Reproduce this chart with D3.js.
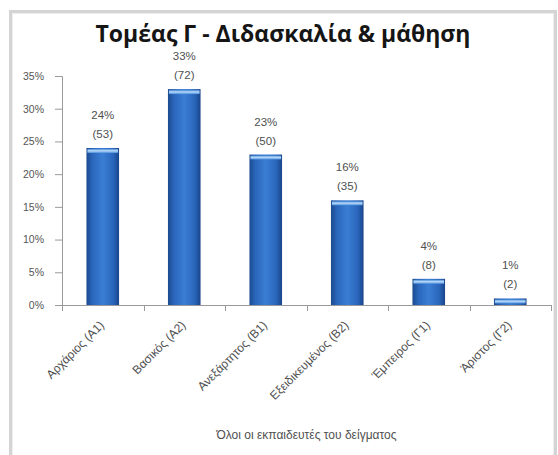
<!DOCTYPE html>
<html>
<head>
<meta charset="utf-8">
<script src="https://cdn.jsdelivr.net/npm/d3@7"></script>
<style>
  html, body { margin: 0; padding: 0; background: #fff; }
  svg { display: block; }
</style>
</head>
<body>
<svg id="chart" width="558" height="455"></svg>
<script>
// Proficiency levels of all trainers in the sample
const categories = ["Αρχάριος (Α1)", "Βασικός (Α2)", "Ανεξάρτητος (Β1)", "Εξειδικευμένος (Β2)", "Έμπειρος (Γ1)", "Άριστος (Γ2)"];
const percents = [24, 33, 23, 16, 4, 1];
const counts = [53, 72, 50, 35, 8, 2];
const yTicks = [0, 5, 10, 15, 20, 25, 30, 35];
const title = "Τομέας Γ - Διδασκαλία & μάθηση";
const xTitle = "Όλοι οι εκπαιδευτές του δείγματος";

const svg = d3.select("#chart");
const font = "'Liberation Sans', Arial, sans-serif";

// outer chart frame
svg.append("rect")
  .attr("x", 10.5).attr("y", 11.5).attr("width", 545).attr("height", 470)
  .attr("fill", "#fff").attr("stroke", "#d4d4d4").attr("stroke-width", 3);
svg.append("rect")
  .attr("x", 12.5).attr("y", 13.5).attr("width", 541).attr("height", 470)
  .attr("fill", "none").attr("stroke", "#eeeeee").attr("stroke-width", 1);

const plot = { left: 62, right: 551, top: 76, bottom: 305 };

const x = d3.scaleBand()
  .domain(categories)
  .range([plot.left, plot.right])
  .paddingInner(0.6)
  .paddingOuter(0.3);

const xTicksScale = d3.scalePoint()
  .domain(d3.range(categories.length + 1))
  .range([plot.left, plot.right]);

const y = d3.scaleLinear().domain([0, 35]).range([plot.bottom, plot.top]);

// gradients for the cylinder-like bars
const defs = svg.append("defs");
const body = defs.append("linearGradient").attr("id", "barBody")
  .attr("x1", "0").attr("x2", "1").attr("y1", "0").attr("y2", "0");
[["0%", "#1b4a8e"], ["18%", "#2a66bb"], ["50%", "#3a7ed4"], ["82%", "#2a66bb"], ["100%", "#19448a"]]
  .forEach(([o, c]) => body.append("stop").attr("offset", o).attr("stop-color", c));
const cap = defs.append("linearGradient").attr("id", "barCap")
  .attr("x1", "0").attr("x2", "0").attr("y1", "0").attr("y2", "1");
[["0%", "#4a88d6"], ["45%", "#b9dcfa"], ["100%", "#4f8fdc"]]
  .forEach(([o, c]) => cap.append("stop").attr("offset", o).attr("stop-color", c));

// title
svg.append("text")
  .attr("x", 283).attr("y", 42)
  .attr("text-anchor", "middle")
  .attr("font-family", "'Open Sans', 'Noto Sans', sans-serif")
  .attr("font-weight", "bold")
  .attr("font-size", 23)
  .attr("fill", "#151515")
  .text(title);

// y axis
const yAxis = d3.axisLeft(y)
  .tickValues(yTicks)
  .tickSize(7)
  .tickPadding(11)
  .tickFormat(d => d + "%");
const gy = svg.append("g").attr("transform", `translate(${plot.left},0)`).call(yAxis);
gy.select(".domain").attr("stroke", "#9a9a9a");
gy.selectAll(".tick line").attr("stroke", "#9a9a9a");
gy.selectAll(".tick text")
  .attr("font-family", font).attr("font-size", 10.5).attr("fill", "#555");

// x axis line with category boundary ticks
const gx = svg.append("g");
gx.append("line")
  .attr("x1", plot.left).attr("x2", plot.right)
  .attr("y1", plot.bottom + 0.5).attr("y2", plot.bottom + 0.5)
  .attr("stroke", "#9a9a9a");
gx.selectAll("line.tk")
  .data(d3.range(categories.length + 1))
  .join("line").attr("class", "tk")
  .attr("x1", d => Math.round(xTicksScale(d)) + 0.5)
  .attr("x2", d => Math.round(xTicksScale(d)) + 0.5)
  .attr("y1", plot.bottom).attr("y2", plot.bottom + 6)
  .attr("stroke", "#9a9a9a");

// bars
const bars = svg.append("g").selectAll("g")
  .data(categories.map((c, i) => ({ c, p: percents[i], n: counts[i] })))
  .join("g");

bars.append("rect")
  .attr("x", d => x(d.c))
  .attr("width", x.bandwidth())
  .attr("y", d => y(d.p))
  .attr("height", d => y(0) - y(d.p))
  .attr("fill", "url(#barBody)");

bars.append("rect")
  .attr("x", d => x(d.c) + 1)
  .attr("width", x.bandwidth() - 2)
  .attr("y", d => y(d.p) + 1)
  .attr("height", 4)
  .attr("fill", "url(#barCap)");

// value labels: percent and count
bars.append("text")
  .attr("x", d => x(d.c) + x.bandwidth() / 2)
  .attr("y", d => y(d.p) - 29)
  .attr("text-anchor", "middle")
  .attr("font-family", font).attr("font-size", 11.5).attr("fill", "#505050")
  .text(d => d.p + "%");
bars.append("text")
  .attr("x", d => x(d.c) + x.bandwidth() / 2)
  .attr("y", d => y(d.p) - 10)
  .attr("text-anchor", "middle")
  .attr("font-family", font).attr("font-size", 11.5).attr("fill", "#505050")
  .text(d => "(" + d.n + ")");

// rotated category labels
svg.append("g").selectAll("text")
  .data(categories)
  .join("text")
  .attr("transform", d => `translate(${x(d) + x.bandwidth() / 2 + 2},${plot.bottom + 21}) rotate(-45)`)
  .attr("text-anchor", "end")
  .attr("font-family", font).attr("font-size", 12).attr("fill", "#505050")
  .text(d => d);

// x axis title, centred on the plot area
svg.append("text")
  .attr("x", (plot.left + plot.right) / 2).attr("y", 439)
  .attr("text-anchor", "middle")
  .attr("font-family", font).attr("font-size", 12).attr("fill", "#505050")
  .text(xTitle);
</script>
</body>
</html>
